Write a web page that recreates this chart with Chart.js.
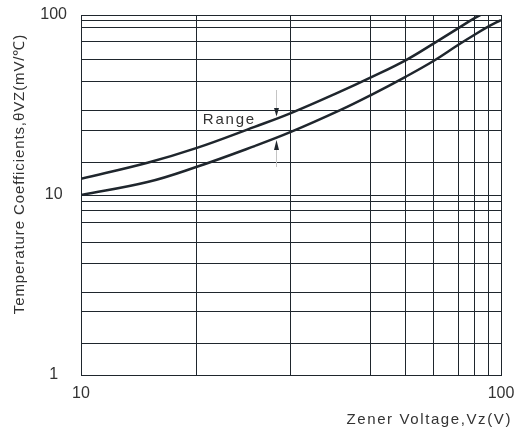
<!DOCTYPE html>
<html>
<head>
<meta charset="utf-8">
<script src="https://cdn.jsdelivr.net/npm/chart.js@4.4.0/dist/chart.umd.min.js"></script>
<style>
html, body { margin: 0; padding: 0; background: #fff; }
</style>
</head>
<body>
<canvas id="grafico" width="515" height="428"></canvas>
<script>
// curva superior del rango
const voltajesMax = [10, 14.4, 18.8, 25.9, 31.6, 41.4, 49, 59.4, 69.2, 79, 86.3, 91];
const coefMax = [12.3, 15.1, 18.2, 23.9, 28.5, 37.5, 45, 56.2, 69.6, 84.3, 95.8, 102];
// curva inferior del rango
const voltajesMin = [10, 14.4, 18.8, 25.9, 31.6, 41.4, 49, 59.4, 69.2, 79, 86.3, 93.2, 100];
const coefMin = [10, 11.8, 14.3, 18.7, 22.4, 29.6, 35.9, 45.5, 55.7, 68.1, 77.4, 86.1, 93.8];
// lineas de la grilla (como en la hoja de datos)
const gridX = [10, 18.8, 31.6, 49, 59.4, 69.2, 79, 86.3, 93.2, 100];
const gridY = [1, 1.49, 2.24, 2.89, 4.14, 5.48, 6.99, 8.25, 9.15, 10, 15.2, 22.7, 29.6, 42.5, 56.9, 71.7, 84.7, 93.8, 100];
const etiquetasX = [10, 100];
const etiquetasY = [1, 10, 100];
// anotacion "Range" y flechas
const rango = { texto: 'Range', x: 19.5, y: 26.1, flechaX: 29.1 };
const flechaArriba = { desde: 38.3, base: 30.4, punta: 27.3 };
const flechaAbajo = { desde: 14.3, base: 17.8, punta: 20.2 };

const colorLinea = '#1f262d';
const colorTexto = '#333333';
const fuente = '"Liberation Sans", Arial, sans-serif';

function puntos(xs, ys) {
    return xs.map((x, i) => ({ x: x, y: ys[i] }));
}

const extras = {
    id: 'extras',
    afterDraw(chart) {
        const ctx = chart.ctx;
        const sx = chart.scales.x;
        const sy = chart.scales.y;
        ctx.save();
        ctx.fillStyle = colorTexto;

        // titulo eje x
        ctx.font = '15px ' + fuente;
        ctx.letterSpacing = '1.6px';
        ctx.textAlign = 'right';
        ctx.textBaseline = 'alphabetic';
        ctx.fillText('Zener Voltage,Vz(V)', 512, 424);

        // titulo eje y
        ctx.save();
        ctx.translate(20, 174);
        ctx.rotate(-Math.PI / 2);
        ctx.textAlign = 'center';
        ctx.textBaseline = 'middle';
        ctx.letterSpacing = '0.9px';
        ctx.fillText('Temperature Coefficients,θVZ(mV/℃)', 0, 0);
        ctx.restore();

        // texto Range
        ctx.letterSpacing = '1.8px';
        ctx.textAlign = 'left';
        ctx.textBaseline = 'middle';
        ctx.fillText(rango.texto, sx.getPixelForValue(rango.x), sy.getPixelForValue(rango.y));

        // flechas
        const fx = Math.round(sx.getPixelForValue(rango.flechaX)) + 0.5;
        ctx.strokeStyle = '#c4c4c4';
        ctx.lineWidth = 1;
        [flechaArriba, flechaAbajo].forEach(f => {
            const a = sy.getPixelForValue(f.desde);
            const b = sy.getPixelForValue(f.base);
            const p = sy.getPixelForValue(f.punta);
            ctx.beginPath();
            ctx.moveTo(fx, a);
            ctx.lineTo(fx, b);
            ctx.stroke();
            ctx.fillStyle = colorLinea;
            ctx.beginPath();
            ctx.moveTo(fx - 2.5, b);
            ctx.lineTo(fx + 2.5, b);
            ctx.lineTo(fx, p);
            ctx.closePath();
            ctx.fill();
        });
        ctx.restore();
    }
};

new Chart(document.getElementById('grafico'), {
    type: 'line',
    data: {
        datasets: [
            { data: puntos(voltajesMax, coefMax) },
            { data: puntos(voltajesMin, coefMin) }
        ]
    },
    options: {
        responsive: false,
        animation: false,
        layout: { padding: { top: 15, right: 14, left: 0, bottom: 0 } },
        elements: {
            line: { borderColor: colorLinea, borderWidth: 2.5, tension: 0.4 },
            point: { radius: 0 }
        },
        plugins: {
            legend: { display: false },
            tooltip: { enabled: false }
        },
        scales: {
            x: {
                type: 'logarithmic',
                min: 10,
                max: 100,
                afterBuildTicks: scale => { scale.ticks = gridX.map(v => ({ value: v })); },
                afterFit: scale => {
                    scale.height = 53;
                    scale.paddingLeft = 0;
                    scale.paddingRight = 0;
                },
                grid: { color: colorLinea, lineWidth: 1, drawTicks: false },
                border: { color: colorLinea, width: 1 },
                ticks: {
                    autoSkip: false,
                    maxRotation: 0,
                    padding: 9,
                    color: colorTexto,
                    font: { family: fuente, size: 16 },
                    callback: v => etiquetasX.includes(v) ? String(v) : ''
                }
            },
            y: {
                type: 'logarithmic',
                min: 1,
                max: 100,
                afterBuildTicks: scale => { scale.ticks = gridY.map(v => ({ value: v })); },
                afterFit: scale => {
                    scale.width = 81;
                    scale.paddingTop = 0;
                    scale.paddingBottom = 0;
                },
                grid: { color: colorLinea, lineWidth: 1, drawTicks: false },
                border: { color: colorLinea, width: 1 },
                ticks: {
                    autoSkip: false,
                    crossAlign: 'center',
                    padding: 14,
                    color: colorTexto,
                    font: { family: fuente, size: 16 },
                    callback: v => etiquetasY.includes(v) ? String(v) : ''
                }
            }
        }
    },
    plugins: [extras]
});
</script>
</body>
</html>
